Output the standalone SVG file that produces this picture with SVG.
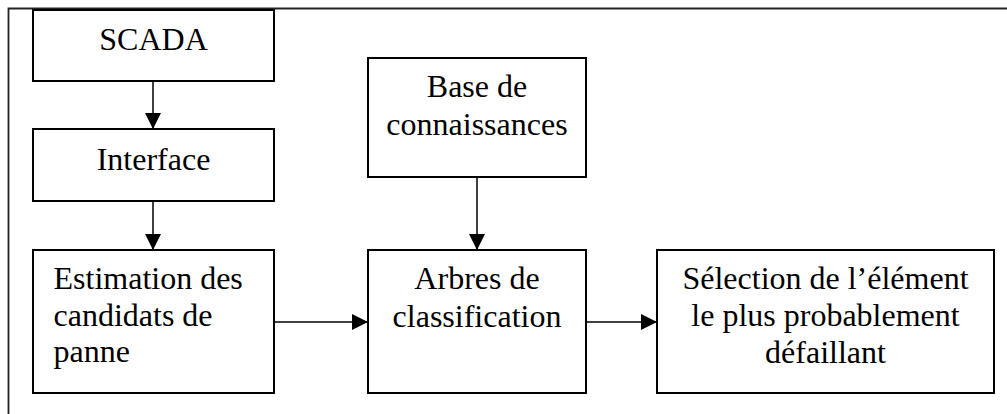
<svg xmlns="http://www.w3.org/2000/svg" width="1007" height="414" viewBox="0 0 1007 414">
<defs>
<style>
.box{fill:#fff;stroke:#000;stroke-width:2}
.t{font-family:"Liberation Serif","Times New Roman",serif;font-size:32px;fill:#000}
.c{text-anchor:middle}
.ln{stroke:#000;stroke-width:1.5;fill:none}
</style>
<marker id="ah" markerUnits="userSpaceOnUse" markerWidth="16" markerHeight="16" viewBox="0 0 16 16" refX="16" refY="8" orient="auto">
<path d="M0,0 L16,8 L0,16 Z" fill="#000"/>
</marker>
</defs>
<path d="M8.5,414 V8.5 H1007" stroke="#222" stroke-width="1.8" fill="none"/>
<g id="connectors">
<line class="ln" x1="153" y1="81" x2="153" y2="129" marker-end="url(#ah)"/>
<line class="ln" x1="153" y1="201" x2="153" y2="250" marker-end="url(#ah)"/>
<line class="ln" x1="477" y1="177" x2="477" y2="250" marker-end="url(#ah)"/>
<line class="ln" x1="274" y1="322" x2="368" y2="322" marker-end="url(#ah)"/>
<line class="ln" x1="586" y1="322" x2="657" y2="322" marker-end="url(#ah)"/>
</g>
<g id="scada">
<rect class="box" x="33" y="10" width="241" height="71"/>
<text class="t c" x="153.5" y="50">SCADA</text>
</g>
<g id="interface">
<rect class="box" x="33" y="129" width="241" height="72"/>
<text class="t c" x="153.5" y="170">Interface</text>
</g>
<g id="estimation">
<rect class="box" x="33" y="250" width="241" height="143"/>
<text class="t" x="53.5" y="288.5">Estimation des</text>
<text class="t" x="53.5" y="325.5">candidats de</text>
<text class="t" x="53.5" y="362">panne</text>
</g>
<g id="base">
<rect class="box" x="368" y="58" width="218" height="119"/>
<text class="t c" x="477" y="97">Base de</text>
<text class="t c" x="477" y="134.5">connaissances</text>
</g>
<g id="arbres">
<rect class="box" x="368" y="250" width="218" height="143"/>
<text class="t c" x="477" y="288.5">Arbres de</text>
<text class="t c" x="477" y="326.5">classification</text>
</g>
<g id="selection">
<rect class="box" x="657" y="250" width="337" height="143"/>
<text class="t c" x="825.5" y="289">Sélection de l’élément</text>
<text class="t c" x="825.5" y="326">le plus probablement</text>
<text class="t c" x="825.5" y="362.5">défaillant</text>
</g>
</svg>
